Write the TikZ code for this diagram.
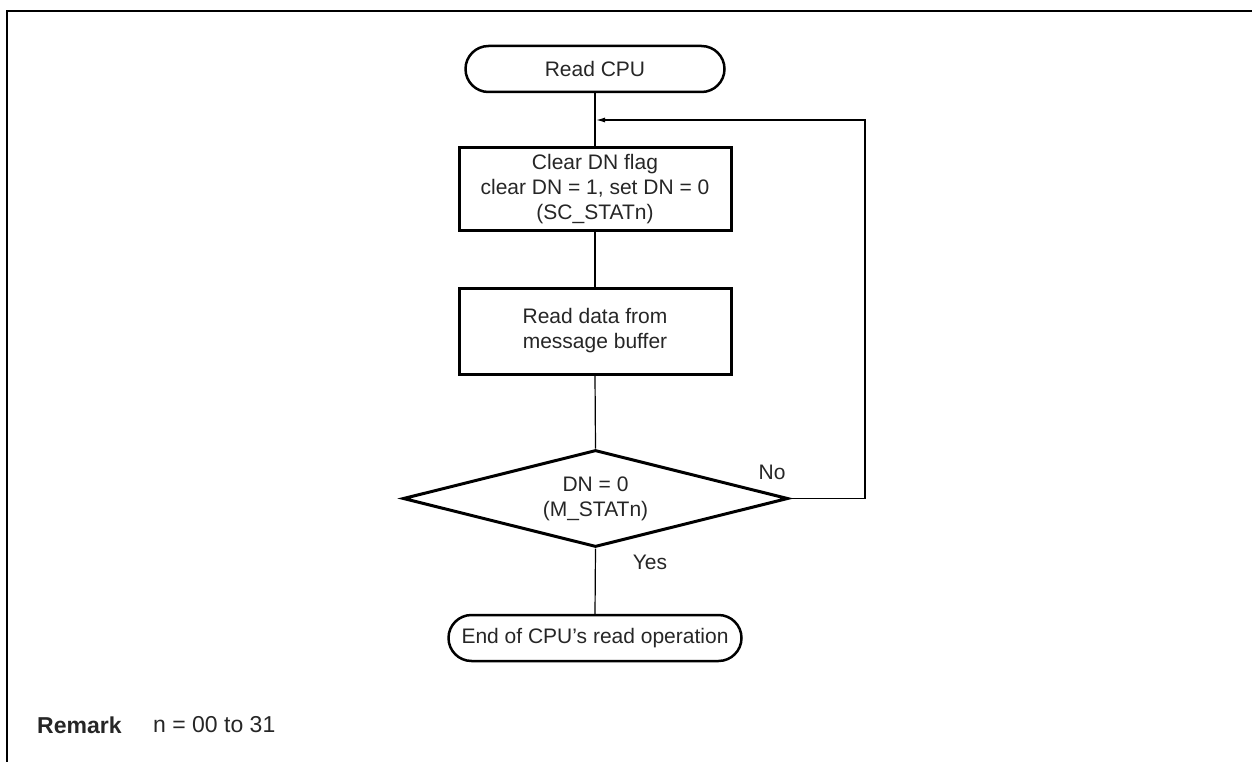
\documentclass[tikz,border=0pt]{standalone}
\usepackage{fontspec}
\setmainfont{Liberation Sans}
\usetikzlibrary{shapes.geometric,arrows.meta}
\begin{document}
\begin{tikzpicture}[x=1pt,y=-1pt,
  every node/.style={font=\fontsize{21}{25}\selectfont, text=black!85},
  term/.style={draw=black, line width=2.5pt, rounded corners=23pt, minimum height=46pt, inner sep=0pt, align=center},
  procbox/.style={draw=black, line width=3pt, minimum width=272pt, inner sep=0pt, align=center},
  decis/.style={draw=black, diamond, aspect=3.97, line width=3pt, minimum width=385pt, minimum height=97pt, inner sep=0pt, align=center},
  conn/.style={draw=black, line width=1.2pt},
  lbl/.style={inner sep=0pt},
  remfont/.style={font=\fontsize{23}{27}\selectfont}
]
\useasboundingbox (0,0) rectangle (1252,762);
% frame
\draw[line width=2pt] (1252,11) -- (7,11) -- (7,762);

\node[term, minimum width=259pt] (start) at (595,69) {Read CPU};
\node[procbox, minimum height=82pt] (b1) at (595,189) {Clear DN flag\\clear DN = 1, set DN = 0\\(SC\_STATn)};
\node[procbox, minimum height=86pt] (b2) at (595,331) {Read data from\\message buffer};
\node[decis] (d) at (595.5,498.5) {DN = 0\\(M\_STATn)};
\node[term, minimum width=293pt] (fin) at (595,638) {End of CPU’s read operation};

\coordinate (loop) at (865,120);
\coordinate (join) at (596,120);

\draw[conn] (start.south) -- (b1.north);
\draw[conn] (b1.south) -- (b2.north);
\draw[conn] (b2.south) -- (d.north);
\draw[conn] (d.south) -- (fin.north);
\draw[conn, -{Latex[length=9pt,width=5pt]}] (d.east) -| (loop) -- (join);

\node[lbl] (no) at (772,472) {No};
\node[lbl] (yes) at (650,562) {Yes};

\node[lbl, remfont, anchor=west] (rem) at (37,725) {\bfseries Remark};
\node[lbl, remfont, anchor=west] (remt) at (153,725) {n = 00 to 31};
\end{tikzpicture}
\end{document}
